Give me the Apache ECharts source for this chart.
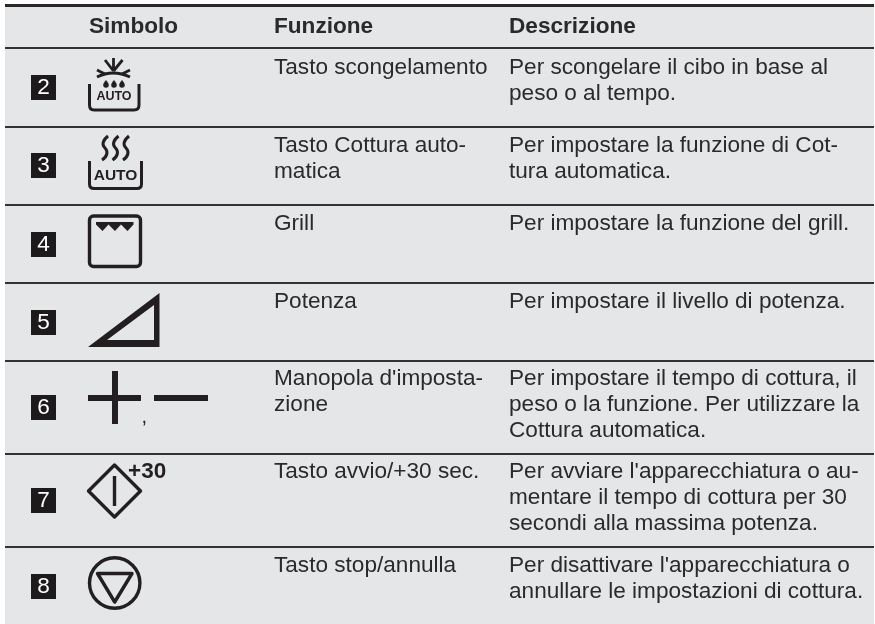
<!DOCTYPE html>
<html><head><meta charset="utf-8">
<style>html,body{margin:0;padding:0;background:#fff}#c{width:875px;height:624px}</style>
<script src="https://cdn.jsdelivr.net/npm/echarts@6/dist/echarts.min.js"></script>
</head><body><div id="c"></div>
<script>
const headers = ['Simbolo', 'Funzione', 'Descrizione'];
const badges = ['2', '3', '4', '5', '6', '7', '8'];
const functions = [
  ['Tasto scongelamento'],
  ['Tasto Cottura auto-', 'matica'],
  ['Grill'],
  ['Potenza'],
  ["Manopola d'imposta-", 'zione'],
  ['Tasto avvio/+30 sec.'],
  ['Tasto stop/annulla']
];
const descriptions = [
  ['Per scongelare il cibo in base al', 'peso o al tempo.'],
  ['Per impostare la funzione di Cot-', 'tura automatica.'],
  ['Per impostare la funzione del grill.'],
  ['Per impostare il livello di potenza.'],
  ['Per impostare il tempo di cottura, il', 'peso o la funzione. Per utilizzare la', 'Cottura automatica.'],
  ["Per avviare l'apparecchiatura o au-", 'mentare il tempo di cottura per 30', 'secondi alla massima potenza.'],
  ["Per disattivare l'apparecchiatura o", 'annullare le impostazioni di cottura.']
];

const FONT = '"Liberation Sans", Arial, sans-serif';
const INK = '#231f20', BG = '#e4e6e8', TXT = '#2b2a2b';
const ruleY = [48, 127, 205, 283, 361, 454, 547];
const firstLineY = [68, 146, 224, 302, 379, 472, 566];
const badgeY = [75, 153, 232, 310, 395, 488, 574];
const LH = 26;
const g = [];
const txt = (s, x, y, o = {}) => g.push({type: 'text', silent: true, style: Object.assign({
  text: s, x, y, fill: TXT, font: `${o.w || 'normal'} ${o.size || 22.6}px ${FONT}`,
  textAlign: o.align || 'left', textVerticalAlign: 'middle'}, o.fill ? {fill: o.fill} : {})});
const stroke = (pathData, w, extra = {}) => g.push({type: 'path', silent: true,
  shape: {pathData}, style: Object.assign({fill: 'none', stroke: INK, lineWidth: w, lineJoin: 'round', lineCap: 'butt'}, extra)});
const fill = (pathData) => g.push({type: 'path', silent: true, shape: {pathData}, style: {fill: INK, stroke: 'none'}});

g.push({type: 'rect', silent: true, shape: {x: 5, y: 5, width: 869, height: 619}, style: {fill: BG}});
g.push({type: 'rect', silent: true, shape: {x: 5, y: 4, width: 869, height: 3}, style: {fill: '#2a2829'}});
ruleY.forEach((y, i) => g.push({type: 'rect', silent: true,
  shape: {x: 5, y: y - 1, width: 869, height: 2}, style: {fill: '#333234'}}));

[89, 274, 509].forEach((x, i) => txt(headers[i], x, 26.5, {w: 'bold'}));
badges.forEach((b, i) => {
  g.push({type: 'rect', silent: true, shape: {x: 31, y: badgeY[i], width: 25, height: 25}, style: {fill: '#1c1a1b'}});
  txt(b, 43.5, badgeY[i] + 12.5, {align: 'center', fill: '#fff'});
  functions[i].forEach((l, k) => txt(l, 274, firstLineY[i] + k * LH));
  descriptions[i].forEach((l, k) => txt(l, 509, firstLineY[i] + k * LH));
});

// icon 2: snowflake + drops + tub
stroke('M97 77 Q113 69 130 77', 2.8);
stroke('M113.5 71 L113.5 58 M113.5 71 L105 60 M113.5 71 L122.5 60 M97 70 L105 74 M130 70 L122 74', 2.8);
[106, 114, 122].forEach(x => fill(`M${x} 80 C${x + 1.3} 82 ${x + 2.8} 83 ${x + 2.8} 85 A2.8 2.8 0 0 1 ${x - 2.8} 85 C${x - 2.8} 83 ${x - 1.3} 82 ${x} 80 Z`));
stroke('M89.5 84 L89.5 105 Q89.5 110 94 110 L134 110 Q139 110 139 105 L139 84', 3);
txt('AUTO', 114, 97, {w: 'bold', size: 12.5, align: 'center', fill: INK});

// icon 3: steam + tub
[105, 115.5, 126].forEach(x => stroke(`M${x + 3} 136 C${x - 3} 141 ${x - 3} 145 ${x} 148 C${x + 3} 151 ${x + 3} 156 ${x - 3} 160`, 3));
stroke('M89.5 161 L89.5 184 Q89.5 188.5 94 188.5 L137 188.5 Q141.5 188.5 141.5 184 L141.5 161', 3);
txt('AUTO', 115.5, 176, {w: 'bold', size: 15.5, align: 'center', fill: INK});

// icon 4: grill
g.push({type: 'rect', silent: true, shape: {x: 89.5, y: 216, width: 51, height: 50.5, r: 4}, style: {fill: 'none', stroke: INK, lineWidth: 3.4}});
fill('M96 222 L133.5 222 L133.5 224.5 L127.5 231 L121 224.5 L115 231 L108.5 224.5 L102.5 231 L96 224.5 Z');

// icon 5: power triangle
fill('M88 347 L159.5 293 L159.5 347 Z M107 340 L154 340 L154 305 Z');

// icon 6: plus, minus, comma
fill('M112 371 L118 371 L118 395 L141 395 L141 401 L118 401 L118 424 L112 424 L112 401 L88 401 L88 395 L112 395 Z');
fill('M154 395 L208 395 L208 401 L154 401 Z');
txt(',', 141.5, 417, {size: 20, fill: INK});

// icon 7: start
stroke('M114.5 465 L140.5 491 L114.5 517 L88.5 491 Z', 3.4);
stroke('M114.5 476 L114.5 506', 3.4);
txt('+30', 128, 472, {w: 'bold', size: 22.5, fill: INK});

// icon 8: stop
g.push({type: 'circle', silent: true, shape: {cx: 114.7, cy: 583, r: 25.2}, style: {fill: 'none', stroke: INK, lineWidth: 3.4}});
stroke('M97.5 573.5 L132 573.5 L114.7 602 Z', 3.4);

const chart = echarts.init(document.getElementById('c'), null, {renderer: 'canvas'});
chart.setOption({animation: false, backgroundColor: '#fff',
  series: [{type: 'custom', coordinateSystem: 'none', silent: true, clip: false, data: [0],
    renderItem: () => ({type: 'group', children: g})}]});
</script></body></html>
